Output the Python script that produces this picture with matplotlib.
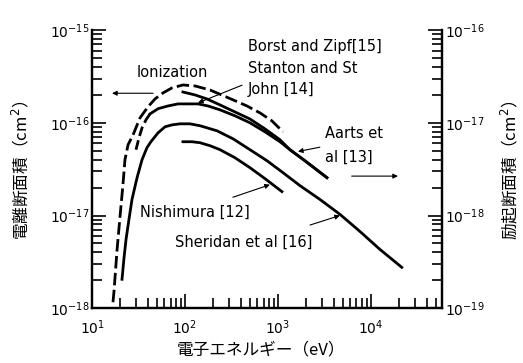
import numpy as np
import matplotlib.pyplot as plt

plt.rcParams['font.family'] = ['DejaVu Sans', 'Noto Sans CJK JP']

# ionization (left axis, dashed)
ion_e = [16.8, 17.3, 17.7, 18.6, 20.0, 21.5, 22.6, 24.4, 27.6, 32.8, 40.0, 47.6,
         57.9, 72.4, 95, 128, 186, 328, 464, 640, 861, 1132]
ion_s = [1.16e-18, 1.6e-18, 2.21e-18, 4.31e-18, 9.75e-18, 2.15e-17, 4.0e-17, 5.8e-17,
         7.4e-17, 1.13e-16, 1.49e-16, 1.81e-16, 2.1e-16, 2.38e-16, 2.56e-16, 2.5e-16,
         2.26e-16, 1.77e-16, 1.52e-16, 1.28e-16, 1.05e-16, 8.0e-17]

# excitation (right axis, solid)
borst_e = [95, 128, 172, 238, 345, 500, 725, 1052, 1345, 1950, 3365]
borst_s = [2.15e-17, 2.0e-17, 1.81e-17, 1.56e-17, 1.31e-17, 1.1e-17, 8.6e-18,
           6.56e-18, 5.13e-18, 3.9e-18, 2.56e-18]

stanton_dash_e = [29.7, 32.0, 34.5, 38.1, 42.1]
stanton_dash_s = [5.13e-18, 6.9e-18, 8.83e-18, 1.08e-17, 1.25e-17]
stanton_e = [42.1, 51.3, 65.6, 84.1, 108, 138, 177, 238, 345, 500, 725, 1052,
             1345, 1950, 3365]
stanton_s = [1.25e-17, 1.42e-17, 1.52e-17, 1.6e-17, 1.6e-17, 1.6e-17, 1.52e-17,
             1.38e-17, 1.19e-17, 1.0e-17, 8.0e-18, 6.25e-18, 5.13e-18, 3.9e-18, 2.56e-18]

sheridan_e = [21.0, 22.1, 23.2, 24.4, 26.9, 30.5, 34.5, 39.0, 43.0, 51.3, 61.0, 72.4,
              88.3, 113, 145, 221, 328, 500, 762, 1132, 1726, 2830, 4645, 7620,
              12500, 21500]
sheridan_s = [2.05e-19, 3.53e-19, 5.5e-19, 7.8e-19, 1.49e-18, 2.56e-18, 4.0e-18,
              5.4e-18, 6.25e-18, 7.8e-18, 9.06e-18, 9.5e-18, 9.75e-18, 9.75e-18,
              9.3e-18, 8.2e-18, 6.73e-18, 5.13e-18, 3.9e-18, 2.9e-18, 2.1e-18,
              1.49e-18, 1.03e-18, 6.73e-19, 4.31e-19, 2.76e-19]

nishi_e = [95, 119, 145, 186, 238, 345, 500, 725, 1104]
nishi_s = [6.25e-18, 6.25e-18, 6.1e-18, 5.66e-18, 5.13e-18, 4.2e-18, 3.28e-18,
           2.5e-18, 1.81e-18]

fig = plt.figure(figsize=(5.23, 3.63), dpi=100)
ax = fig.add_axes([0.176, 0.151, 0.670, 0.766])
ax2 = ax.twinx()

ax.set_xscale('log')
ax.set_yscale('log')
ax2.set_yscale('log')
ax.set_xlim(10, 10**4.77)
ax.set_ylim(1e-18, 1e-15)
ax2.set_ylim(1e-19, 1e-16)

ax.plot(ion_e, ion_s, color='black', lw=2, dashes=[4.5, 1.6])
ax2.plot(stanton_dash_e, stanton_dash_s, color='black', lw=2, dashes=[3.5, 1.6])
ax2.plot(stanton_e, stanton_s, color='black', lw=2)
ax2.plot(borst_e, borst_s, color='black', lw=2)
ax2.plot(sheridan_e, sheridan_s, color='black', lw=2)
ax2.plot(nishi_e, nishi_s, color='black', lw=2)

for a in (ax, ax2):
    a.spines['top'].set_visible(False)
    for s in a.spines.values():
        s.set_linewidth(1.6)
    a.tick_params(which='both', direction='in', labelsize=10, width=1.2)
    a.tick_params(which='major', length=10)
    a.tick_params(which='minor', length=7)
    a.tick_params(axis='y', pad=2)
ax.tick_params(axis='x', pad=7)
ax.set_xticks([10, 100, 1000, 10000])
ax.set_xticklabels(['$10^1$', '$10^2$', '$10^3$', '$10^4$'])
ax.set_yticks([1e-18, 1e-17, 1e-16, 1e-15])
ax.set_yticklabels(['$10^{-18}$', '$10^{-17}$', '$10^{-16}$', '$10^{-15}$'])
ax2.set_yticks([1e-19, 1e-18, 1e-17, 1e-16])
ax2.set_yticklabels(['$10^{-19}$', '$10^{-18}$', '$10^{-17}$', '$10^{-16}$'])

fs = 10.5
T = ax.transAxes
ax.text(0.128, 0.849, 'Ionization', transform=T, fontsize=fs, va='center')
ax.text(0.445, 0.942, 'Borst and Zipf[15]', transform=T, fontsize=fs, va='center')
ax.text(0.445, 0.863, 'Stanton and St', transform=T, fontsize=fs, va='center')
ax.text(0.445, 0.788, 'John [14]', transform=T, fontsize=fs, va='center')
ax.text(0.664, 0.629, 'Aarts et', transform=T, fontsize=fs, va='center')
ax.text(0.664, 0.543, 'al [13]', transform=T, fontsize=fs, va='center')
ax.text(0.137, 0.345, 'Nishimura [12]', transform=T, fontsize=fs, va='center')
ax.text(0.237, 0.237, 'Sheridan et al [16]', transform=T, fontsize=fs, va='center')

arw = dict(arrowstyle='-|>', color='black', lw=0.8, mutation_scale=7, shrinkA=0, shrinkB=0)
ax.annotate('', xy=(0.057, 0.773), xytext=(0.174, 0.773), xycoords=T, textcoords=T, arrowprops=arw)
ax.annotate('', xy=(0.873, 0.475), xytext=(0.741, 0.475), xycoords=T, textcoords=T, arrowprops=arw)
ax.annotate('', xy=(138, 1.64e-16), xytext=(0.428, 0.802), textcoords=T, arrowprops=arw)
ax.annotate('', xy=(1641, 4.9e-17), xytext=(0.650, 0.579), textcoords=T, arrowprops=arw)
ax.annotate('', xy=(820, 2.15e-17), xytext=(0.402, 0.399), textcoords=T, arrowprops=arw)
ax.annotate('', xy=(4645, 1e-17), xytext=(0.622, 0.299), textcoords=T, arrowprops=arw)

cjk = ['Noto Sans CJK JP', 'DejaVu Sans']
fig.text(0.5, 0.035, '電子エネルギー（eV）', ha='center', va='center', fontsize=12, family=cjk)
fig.text(0.04, 0.53, '電離断面積（cm$^2$）', ha='center', va='center', rotation=90, fontsize=12, family=cjk)
fig.text(0.975, 0.53, '励起断面積（cm$^2$）', ha='center', va='center', rotation=90, fontsize=12, family=cjk)

fig.savefig('out.png', dpi=100)
